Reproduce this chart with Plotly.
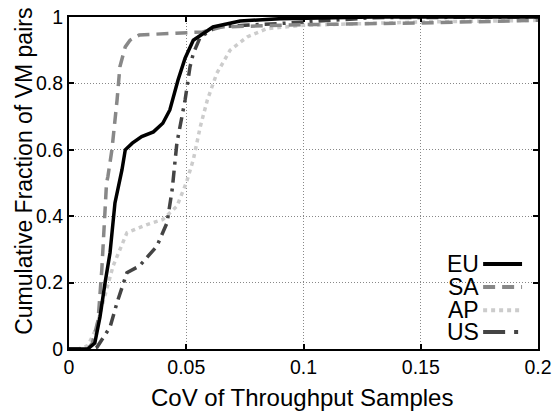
import plotly.graph_objects as go

# ---- data ----
series_names = ["EU", "SA", "AP", "US"]

EU_x = [0, 0.008, 0.011, 0.0132, 0.0154, 0.0175, 0.0196, 0.0226, 0.024, 0.027, 0.031, 0.036, 0.040, 0.043, 0.0465, 0.0495, 0.053, 0.0614, 0.073, 0.09, 0.13, 0.2]
EU_y = [0, 0, 0.018, 0.096, 0.2, 0.29, 0.44, 0.54, 0.6, 0.62, 0.64, 0.654, 0.68, 0.72, 0.81, 0.876, 0.93, 0.97, 0.988, 0.995, 1.0, 1.0]

SA_x = [0, 0.008, 0.010, 0.0124, 0.014, 0.016, 0.0166, 0.0183, 0.0205, 0.0217, 0.024, 0.026, 0.030, 0.045, 0.057, 0.065, 0.1, 0.15, 0.2]
SA_y = [0, 0, 0.018, 0.087, 0.24, 0.5, 0.52, 0.6, 0.75, 0.85, 0.91, 0.93, 0.946, 0.95, 0.955, 0.97, 0.977, 0.982, 0.99]

AP_x = [0, 0.004, 0.008, 0.0115, 0.0145, 0.0188, 0.0247, 0.033, 0.040, 0.046, 0.050, 0.053, 0.056, 0.059, 0.063, 0.0687, 0.076, 0.0844, 0.1, 0.15, 0.2]
AP_y = [0, 0, 0.01, 0.06, 0.14, 0.25, 0.35, 0.374, 0.39, 0.43, 0.5, 0.57, 0.67, 0.75, 0.83, 0.90, 0.94, 0.965, 0.975, 0.985, 0.99]

US_x = [0, 0.010, 0.012, 0.0175, 0.0205, 0.0247, 0.030, 0.0375, 0.0418, 0.044, 0.046, 0.0495, 0.0516, 0.053, 0.056, 0.063, 0.075, 0.089, 0.13, 0.2]
US_y = [0, 0, 0.006, 0.066, 0.14, 0.23, 0.25, 0.31, 0.38, 0.48, 0.62, 0.75, 0.85, 0.89, 0.94, 0.97, 0.975, 0.98, 0.998, 1.0]

x_ticks = [0, 0.05, 0.1, 0.15, 0.2]
x_ticklabels = ["0", "0.05", "0.1", "0.15", "0.2"]
y_ticks = [0, 0.2, 0.4, 0.6, 0.8, 1]
y_ticklabels = ["0", "0.2", "0.4", "0.6", "0.8", "1"]

x_title = "CoV of Throughput Samples"
y_title = "Cumulative Fraction of VM pairs"

# ---- styles ----
styles = {
    "EU": dict(color="#000000", dash="solid"),
    "SA": dict(color="#888888", dash="12px,7px"),
    "AP": dict(color="#cccccc", dash="4px,4px"),
    "US": dict(color="#444444", dash="12px,6px,3px,6px"),
}
data = {"EU": (EU_x, EU_y), "SA": (SA_x, SA_y), "AP": (AP_x, AP_y), "US": (US_x, US_y)}

FONT = "Liberation Sans, Arial, Helvetica, sans-serif"

fig = go.Figure()
for name in ["AP", "US", "SA", "EU"]:
    xs, ys = data[name]
    fig.add_trace(go.Scatter(x=xs, y=ys, mode="lines", name=name, showlegend=False, hoverinfo="skip",
                             line=dict(color=styles[name]["color"], dash=styles[name]["dash"], width=3.5)))

# custom legend: text left of line sample
leg_y = [0.256, 0.187, 0.117, 0.051]
for name, yy in zip(series_names, leg_y):
    fig.add_annotation(xref="paper", yref="paper", x=0.878, y=yy, text=name, showarrow=False,
                       xanchor="right", yanchor="middle", font=dict(family=FONT, size=23, color="black"))
    fig.add_shape(type="line", xref="paper", yref="paper", x0=0.883, x1=0.966, y0=yy, y1=yy,
                  line=dict(color=styles[name]["color"], dash=styles[name]["dash"] if name != "US" else "22px,9px,4px,9px", width=4))

# axis titles
fig.add_annotation(xref="paper", yref="paper", x=0.497, y=-0.145, text=x_title, showarrow=False,
                   xanchor="center", yanchor="middle", font=dict(family=FONT, size=24, color="black"))
fig.add_annotation(xref="paper", yref="paper", x=-0.095, y=0.535, text=y_title, showarrow=False, textangle=-90,
                   xanchor="center", yanchor="middle", font=dict(family=FONT, size=23, color="black"))

axis_common = dict(showline=True, linecolor="black", linewidth=2, mirror="ticks",
                   ticks="inside", ticklen=5, tickcolor="black", tickwidth=1.5,
                   showgrid=True, gridcolor="#888888", griddash="1px,2px", gridwidth=1,
                   zeroline=False, automargin=False,
                   tickfont=dict(family=FONT, size=19.5, color="black"))

fig.update_xaxes(range=[0, 0.2], tickvals=x_ticks, ticktext=x_ticklabels, **axis_common)
fig.update_yaxes(range=[0, 1], tickvals=y_ticks, ticktext=y_ticklabels, **axis_common)

fig.update_layout(width=555, height=414, margin=dict(l=69, r=17, t=17, b=65),
                  plot_bgcolor="white", paper_bgcolor="white", showlegend=False,
                  font=dict(family=FONT), hovermode=False)

fig.write_html("out.html", config={"displayModeBar": False},
               post_script="document.body.style.margin='0';document.body.style.overflow='hidden';")
